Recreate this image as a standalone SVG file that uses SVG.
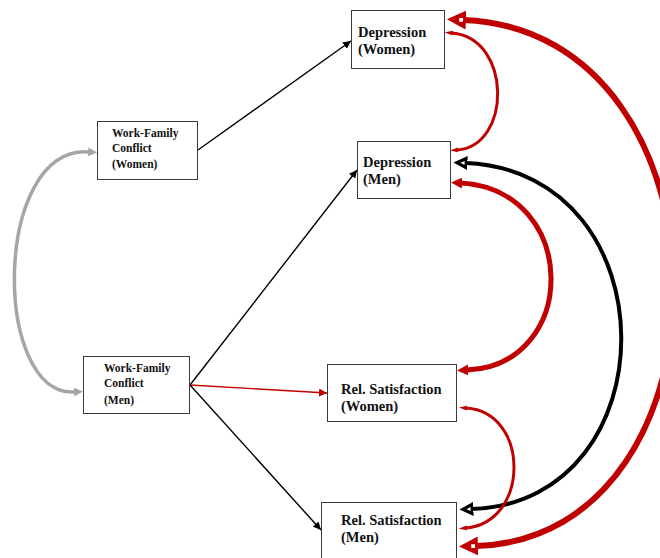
<svg xmlns="http://www.w3.org/2000/svg" width="660" height="558" viewBox="0 0 660 558">
<style>
  .box{fill:#fff;stroke:#3a3a3a;stroke-width:1}
  .lbl{font-family:"Liberation Serif","Times New Roman",serif;font-weight:bold;font-size:14.5px;fill:#111}
  .sm{font-size:11.5px}
  .ln{fill:none;stroke:#000;stroke-width:1.4}
  .red{stroke:#c00000}
  .cv{fill:none}
</style>
<defs>
  <marker id="ab" viewBox="0 0 10 10" refX="10" refY="5" markerUnits="userSpaceOnUse" markerWidth="8" markerHeight="8" orient="auto"><path d="M0,0 L10,5 L0,10 z" fill="#000"/></marker>
  <marker id="ar" viewBox="0 0 10 10" refX="10" refY="5" markerUnits="userSpaceOnUse" markerWidth="8" markerHeight="8" orient="auto"><path d="M0,0 L10,5 L0,10 z" fill="#c00000"/></marker>
  <marker id="ag" viewBox="0 0 10 10" refX="1" refY="5" markerUnits="userSpaceOnUse" markerWidth="9" markerHeight="9" orient="auto-start-reverse"><path d="M0,0 L10,5 L0,10 z" fill="#a6a6a6"/></marker>
  <marker id="rs" viewBox="0 0 10 10" refX="1" refY="5" markerUnits="userSpaceOnUse" markerWidth="8" markerHeight="8" orient="auto-start-reverse"><path d="M0,2 L10,5 L0,8 z" fill="#c00000"/></marker>
  <marker id="rm" viewBox="0 0 10 10" refX="1" refY="5" markerUnits="userSpaceOnUse" markerWidth="11" markerHeight="11" orient="auto-start-reverse"><path d="M0,0 L10,5 L0,10 z" fill="#c00000"/></marker>
  <marker id="bl" viewBox="0 0 10 10" refX="1" refY="5" markerUnits="userSpaceOnUse" markerWidth="14" markerHeight="14" orient="auto-start-reverse"><path d="M0,0 L10,5 L0,10 z" fill="#000"/><path d="M2,3.6 L5,5 L2,6.4 z" fill="#fff"/></marker>
  <marker id="rl" viewBox="0 0 10 10" refX="1" refY="5" markerUnits="userSpaceOnUse" markerWidth="19" markerHeight="19" orient="auto-start-reverse"><path d="M0,0 L10,5 L0,10 z" fill="#c00000"/><path d="M1.5,4 L3.5,4 L3.5,6 L1.5,6 z" fill="#fff"/></marker>
</defs>

<g id="connectors">
  <path class="ln" d="M198 150 L351 41" marker-end="url(#ab)"/>
  <path class="ln" d="M190 385 L357 170" marker-end="url(#ab)"/>
  <path class="ln red" d="M190 385 L327 393" marker-end="url(#ar)"/>
  <path class="ln" d="M190 385 L321 530" marker-end="url(#ab)"/>
  <path class="cv" d="M89 152 C -8 145, -8 398, 75 392" stroke="#a6a6a6" stroke-width="3.5" marker-start="url(#ag)" marker-end="url(#ag)"/>
  <path class="cv" d="M452 33 C 512 38, 512 146, 457 150" stroke="#c00000" stroke-width="3" marker-start="url(#rs)" marker-end="url(#rs)"/>
  <path class="cv" d="M461 183 C 580 190, 580 365, 467 370" stroke="#c00000" stroke-width="5" marker-start="url(#rm)" marker-end="url(#rm)"/>
  <path class="cv" d="M466 163 C 672 172, 672 502, 472 509" stroke="#000" stroke-width="4" marker-start="url(#bl)" marker-end="url(#bl)"/>
  <path class="cv" d="M464 20 C 742 32, 742 538, 476 546" stroke="#c00000" stroke-width="6" marker-start="url(#rl)" marker-end="url(#rl)"/>
  <path class="cv" d="M466 408 C 530 412, 530 522, 466 528" stroke="#c00000" stroke-width="3" marker-start="url(#rs)" marker-end="url(#rs)"/>
</g>

<g id="dep-women">
  <rect class="box" x="351.5" y="10.5" width="93" height="58"/>
  <text class="lbl" x="358" y="37">Depression</text>
  <text class="lbl" x="358" y="54">(Women)</text>
</g>
<g id="dep-men">
  <rect class="box" x="357.5" y="141.5" width="93" height="57"/>
  <text class="lbl" x="363" y="167">Depression</text>
  <text class="lbl" x="363" y="184">(Men)</text>
</g>
<g id="wfc-women">
  <rect class="box" x="97.5" y="121.5" width="100" height="58"/>
  <text class="lbl sm" x="112" y="137">Work-Family</text>
  <text class="lbl sm" x="112" y="152">Conflict</text>
  <text class="lbl sm" x="112" y="168">(Women)</text>
</g>
<g id="wfc-men">
  <rect class="box" x="83.5" y="356.5" width="106" height="57"/>
  <text class="lbl sm" x="104" y="372">Work-Family</text>
  <text class="lbl sm" x="104" y="387">Conflict</text>
  <text class="lbl sm" x="104" y="404">(Men)</text>
</g>
<g id="rs-women">
  <rect class="box" x="327.5" y="364.5" width="129" height="57"/>
  <text class="lbl" x="341" y="394">Rel. Satisfaction</text>
  <text class="lbl" x="341" y="411">(Women)</text>
</g>
<g id="rs-men">
  <rect class="box" x="321.5" y="502.5" width="135" height="60"/>
  <text class="lbl" x="341" y="525">Rel. Satisfaction</text>
  <text class="lbl" x="341" y="542">(Men)</text>
</g>
</svg>
